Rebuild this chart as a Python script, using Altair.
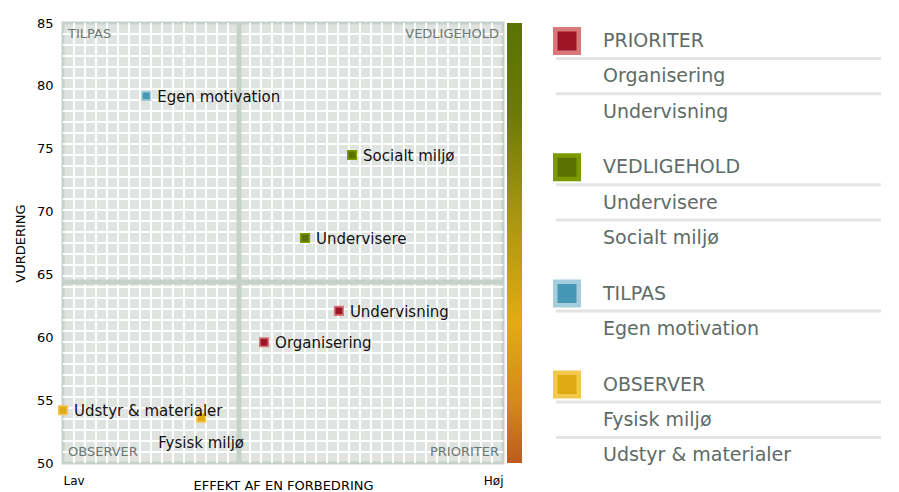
import altair as alt
import numpy as np
import pandas as pd

# ---- data ----
names = ["Organisering", "Undervisning", "Undervisere", "Socialt miljø",
         "Egen motivation", "Fysisk miljø", "Udstyr & materialer"]
groups = ["PRIORITER", "PRIORITER", "VEDLIGEHOLD", "VEDLIGEHOLD",
          "TILPAS", "OBSERVER", "OBSERVER"]
effekt = [45.7, 62.7, 55.0, 65.7, 18.9, 31.4, 0.0]
vurdering = [59.6, 62.1, 67.9, 74.5, 79.2, 53.6, 54.2]

group_order = ["PRIORITER", "VEDLIGEHOLD", "TILPAS", "OBSERVER"]
group_fill = ["#9c1628", "#5a7000", "#4497b6", "#e0aa12"]
group_stroke = ["#d87878", "#7c9a00", "#a6cddc", "#f3c84e"]

x_split = 40
y_split = 64.4

quad_labels = ["TILPAS", "VEDLIGEHOLD", "OBSERVER", "PRIORITER"]
quad_x = [0, 100, 0, 100]
quad_y = [85, 85, 50, 50]

y_ticks = [50, 55, 60, 65, 70, 75, 80, 85]
x_tick_labels = ["Lav", "Høj"]

FONT = "DejaVu Sans"

df = pd.DataFrame({"name": names, "group": groups, "x": effekt, "y": vurdering})
quad = pd.DataFrame({"label": quad_labels, "x": quad_x, "y": quad_y})

xs = alt.Scale(domain=[0, 100], nice=False, zero=False)
ys = alt.Scale(domain=[50, 85], nice=False, zero=False)
xaxis = alt.Axis(values=[0, 100],
                 labelExpr=f"datum.value == 0 ? '{x_tick_labels[0]}' : '{x_tick_labels[1]}'",
                 labelFlush=True, ticks=False, domain=False, grid=False,
                 labelFontSize=12, labelPadding=12, labelColor="#000",
                 title="EFFEKT AF EN FORBEDRING", titleFontSize=13,
                 titleFontWeight="normal", titleColor="#000",
                 titleY=22, titleBaseline="middle")
yaxis = alt.Axis(values=y_ticks, ticks=False, domain=False, grid=False,
                 labelFontSize=13, labelPadding=10, labelColor="#000",
                 title="VURDERING", titleFontSize=13, titleFontWeight="normal",
                 titleColor="#000", titlePadding=9)


def X(f):
    return alt.X(f, type="quantitative", scale=xs, axis=xaxis)


def Y(f):
    return alt.Y(f, type="quantitative", scale=ys, axis=yaxis)


W, H = 440, 440
gx = pd.DataFrame({"x": np.arange(2.5, 100, 2.5)})
gy = pd.DataFrame({"y": np.linspace(50, 85, 41)[1:-1]})

vgrid = alt.Chart(gx).mark_rule(color="#ffffff", strokeWidth=2).encode(x=X("x"))
hgrid = alt.Chart(gy).mark_rule(color="#ffffff", strokeWidth=2).encode(y=Y("y"))
vdiv = alt.Chart(pd.DataFrame({"x": [x_split]})).mark_rule(
    color="#c6d2c9", strokeWidth=5).encode(x=X("x"))
hdiv = alt.Chart(pd.DataFrame({"y": [y_split]})).mark_rule(
    color="#c6d2c9", strokeWidth=5).encode(y=Y("y"))

fill_scale = alt.Scale(domain=group_order, range=group_fill)
stroke_scale = alt.Scale(domain=group_order, range=group_stroke)

pts = alt.Chart(df).mark_square(size=72, strokeWidth=1.6, opacity=1).encode(
    x=X("x"), y=Y("y"),
    fill=alt.Fill("group:N", scale=fill_scale, legend=None),
    stroke=alt.Stroke("group:N", scale=stroke_scale, legend=None),
)
lab_right = alt.Chart(df).transform_filter(
    alt.datum.name != "Fysisk miljø").mark_text(
    align="left", baseline="middle", dx=11, dy=1, fontSize=15, font=FONT,
    color="#111").encode(x=X("x"), y=Y("y"), text="name:N")
lab_below = alt.Chart(df).transform_filter(
    alt.datum.name == "Fysisk miljø").mark_text(
    align="center", baseline="middle", dx=0, dy=25, fontSize=15, font=FONT,
    color="#111").encode(x=X("x"), y=Y("y"), text="name:N")

qstyle = dict(baseline="middle", fontSize=13, font=FONT, color="#6b7872")
q_tl = alt.Chart(quad).transform_filter("datum.x == 0 && datum.y == 85").mark_text(
    align="left", dx=5, dy=11, **qstyle).encode(x=X("x"), y=Y("y"), text="label:N")
q_tr = alt.Chart(quad).transform_filter("datum.x == 100 && datum.y == 85").mark_text(
    align="right", dx=-4, dy=11, **qstyle).encode(x=X("x"), y=Y("y"), text="label:N")
q_bl = alt.Chart(quad).transform_filter("datum.x == 0 && datum.y == 50").mark_text(
    align="left", dx=5, dy=-11, **qstyle).encode(x=X("x"), y=Y("y"), text="label:N")
q_br = alt.Chart(quad).transform_filter("datum.x == 100 && datum.y == 50").mark_text(
    align="right", dx=-4, dy=-11, **qstyle).encode(x=X("x"), y=Y("y"), text="label:N")

main = alt.layer(vgrid, hgrid, vdiv, hdiv, pts, lab_right, lab_below,
                 q_tl, q_tr, q_bl, q_br).properties(
    width=W, height=H,
    view=alt.ViewBackground(fill="#dfe4e1", stroke="#c6d2c9", strokeWidth=3))

# ---- gradient bar ----
grad_fill = alt.LinearGradient(
    gradient="linear", x1=0, x2=0, y1=0, y2=1,
    stops=[alt.GradientStop(color="#5b7300", offset=0),
           alt.GradientStop(color="#6b7a04", offset=0.2),
           alt.GradientStop(color="#a39410", offset=0.42),
           alt.GradientStop(color="#e2ab12", offset=0.68),
           alt.GradientStop(color="#d38a1a", offset=0.86),
           alt.GradientStop(color="#bd5b1d", offset=1)])
grad = alt.Chart(pd.DataFrame({"lo": [50], "hi": [85]})).mark_rect(
    fill=grad_fill).encode(
    y=alt.Y("lo:Q", scale=ys, axis=None), y2="hi:Q",
    x=alt.value(0), x2=alt.value(15)).properties(
    width=15, height=H, view=alt.ViewBackground(strokeWidth=0))

# ---- legend panel ----
rows = []
pos = 18.0
for gi, g in enumerate(group_order):
    items = [n for n, gg in zip(names, groups) if gg == g]
    rows.append({"label": g, "kind": "title", "group": g, "pos": pos,
                 "sep": len(items) > 0})
    for ii, it in enumerate(items):
        pos += 35.3
        rows.append({"label": it, "kind": "item", "group": g, "pos": pos,
                     "sep": ii < len(items) - 1})
    pos += 55.7
leg = pd.DataFrame(rows)
LH = 440
LW = 328
lys = alt.Scale(domain=[LH, 0], nice=False, zero=False)

leg_sep = alt.Chart(leg).transform_filter("datum.sep").transform_calculate(
    spos="datum.pos + 17.5").mark_rule(color="#e4e4e4", strokeWidth=3).encode(
    y=alt.Y("spos:Q", scale=lys, axis=None), x=alt.value(3), x2=alt.value(LW))
leg_sq = alt.Chart(leg).transform_filter("datum.kind == 'title'").mark_square(
    size=552, strokeWidth=4.5, opacity=1).encode(
    y=alt.Y("pos:Q", scale=lys, axis=None), x=alt.value(14),
    fill=alt.Fill("group:N", scale=fill_scale, legend=None),
    stroke=alt.Stroke("group:N", scale=stroke_scale, legend=None))
leg_txt = alt.Chart(leg).mark_text(
    align="left", baseline="middle", fontSize=19, font=FONT,
    color="#5e6b66").encode(
    y=alt.Y("pos:Q", scale=lys, axis=None), x=alt.value(50), text="label:N")
legend = alt.layer(leg_sep, leg_sq, leg_txt).properties(
    width=LW, height=LH, view=alt.ViewBackground(strokeWidth=0))

chart = alt.hconcat(alt.hconcat(main, grad, spacing=0), legend, spacing=24).properties(
    padding={"left": 4, "top": 7, "right": 0, "bottom": 0}
).configure(font=FONT).configure_view(strokeWidth=0).configure_concat(spacing=5)

chart.save("out.html", embed_options={"renderer": "svg", "actions": False})
